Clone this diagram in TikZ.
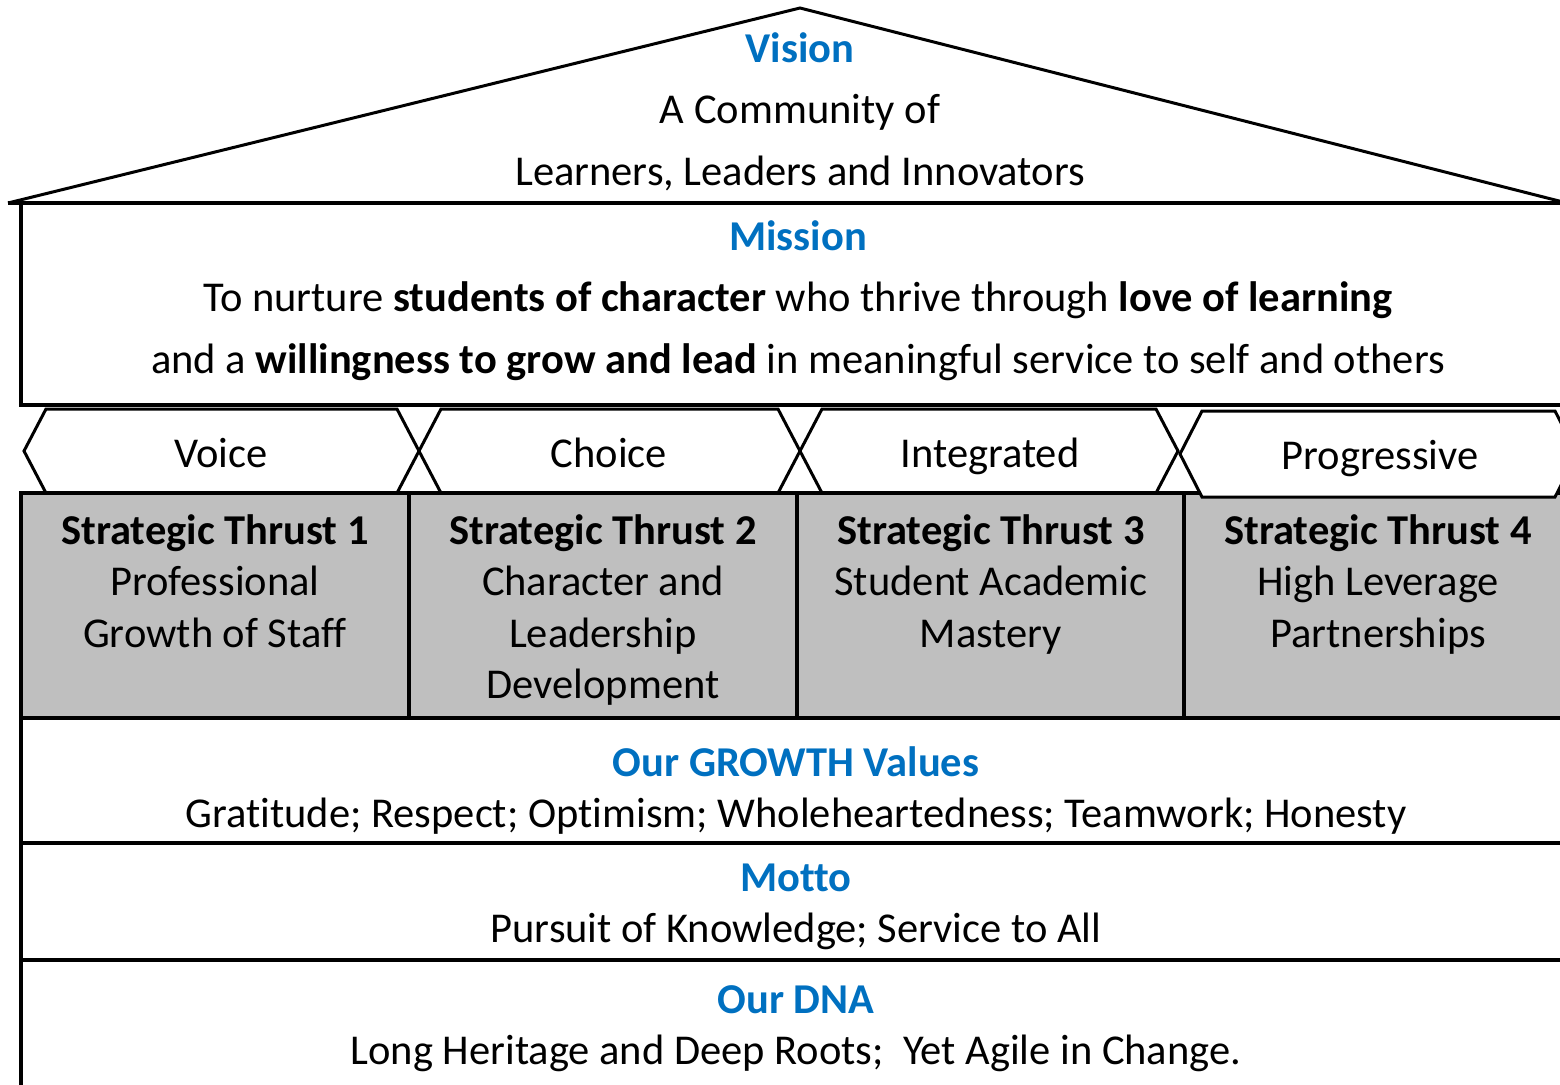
\documentclass[tikz,border=0pt]{standalone}
\usepackage{fontspec}
\setmainfont[Ligatures=NoCommon]{Carlito}
\definecolor{hblue}{HTML}{0070C0}
\definecolor{tgray}{HTML}{BFBFBF}
\newcommand\hexa[4]{%
  \draw[chev] (#1,{(#3+#4)/2}) -- ({#1+22},#3) -- ({#2-22},#3) -- (#2,{(#3+#4)/2}) -- ({#2-22},#4) -- ({#1+22},#4) -- cycle;}
\begin{document}
\begin{tikzpicture}[x=1pt,y=-1pt,line join=miter,
  edge/.style={draw=black,line width=3.5pt},
  chev/.style={draw=black,line width=3pt,fill=white},
  thrustbox/.style={draw=black,line width=3.5pt,fill=tgray},
  txt/.style={anchor=north,inner sep=0pt,align=center,text=black},
  big/.style={font=\fontsize{42.5}{61.5}\selectfont},
  tight/.style={font=\fontsize{42.5}{51.5}\selectfont}]
\useasboundingbox (0,0) rectangle (1560,1084);
\clip (0,0) rectangle (1560,1084);
% roof
\fill[white] (8,203) -- (800,8) -- (1563,202) -- cycle;
\draw[edge,line width=3pt] (8,203) -- (800,8) -- (1563,202);
\draw[edge] (8,203) -- (1620,203);
% mission box
\draw[edge] (21,203) rectangle (1620,405);
% chevrons
\hexa{24}{419}{409}{493}
\hexa{419}{800}{409}{493}
\hexa{800}{1178}{409}{493}
% thrust boxes
\draw[thrustbox] (21,493) rectangle (409,718);
\draw[thrustbox] (409,493) rectangle (797,718);
\draw[thrustbox] (797,493) rectangle (1184,718);
\draw[thrustbox] (1184,493) rectangle (1620,718);
\hexa{1180}{1577}{411}{497}
% lower boxes
\draw[edge] (21,718) rectangle (1620,843);
\draw[edge] (21,843) rectangle (1620,960);
\draw[edge] (21,960) rectangle (1620,1120);
% texts
\node[txt,big] (vision) at (800,27) {\rule{0pt}{35pt}\textcolor{hblue}{\textbf{Vision}}\\A Community of\\Learners, Leaders and Innovators};
\node[txt,big] (mission) at (798,215) {\rule{0pt}{35pt}\textcolor{hblue}{\textbf{Mission}}\\To nurture \textbf{students of character} who thrive through \textbf{love of learning}\\and a \textbf{willingness to grow and lead} in meaningful service to self and others};
\node[txt,big] (voice) at (221,432) {\rule{0pt}{35pt}Voice};
\node[txt,big] (choice) at (609,432) {\rule{0pt}{35pt}Choice};
\node[txt,big] (integ) at (990,432) {\rule{0pt}{35pt}Integrated};
\node[txt,big] (progr) at (1380,434) {\rule{0pt}{35pt}Progressive};
\node[txt,tight] (st1) at (215,509) {\rule{0pt}{35pt}\textbf{Strategic Thrust 1}\\Professional\\Growth of Staff};
\node[txt,tight] (st2) at (603,509) {\rule{0pt}{35pt}\textbf{Strategic Thrust 2}\\Character and\\Leadership\\Development};
\node[txt,tight] (st3) at (991,509) {\rule{0pt}{35pt}\textbf{Strategic Thrust 3}\\Student Academic\\Mastery};
\node[txt,tight] (st4) at (1378,509) {\rule{0pt}{35pt}\textbf{Strategic Thrust 4}\\High Leverage\\Partnerships};
\node[txt,tight] (values) at (796,741) {\rule{0pt}{35pt}\textcolor{hblue}{\textbf{Our GROWTH Values}}\\Gratitude; Respect; Optimism; Wholeheartedness; Teamwork; Honesty};
\node[txt,tight] (motto) at (796,856) {\rule{0pt}{35pt}\textcolor{hblue}{\textbf{Motto}}\\Pursuit of Knowledge; Service to All};
\node[txt,tight] (dna) at (796,978) {\rule{0pt}{35pt}\textcolor{hblue}{\textbf{Our DNA}}\\Long Heritage and Deep Roots;\ \ Yet Agile in Change.};
\end{tikzpicture}
\end{document}
